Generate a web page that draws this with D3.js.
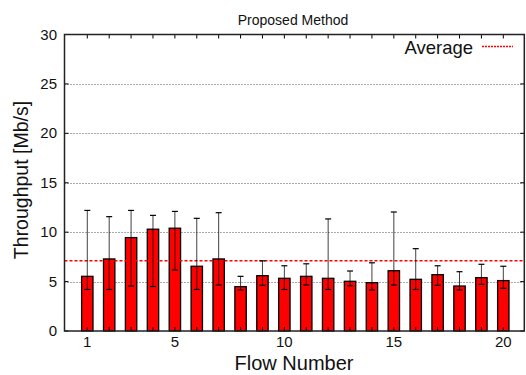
<!DOCTYPE html>
<html>
<head>
<meta charset="utf-8">
<script src="https://cdn.jsdelivr.net/npm/d3@7"></script>
<style>
body { margin: 0; background: #fff; }
svg { font-family: "Liberation Sans", Arial, sans-serif; }
</style>
</head>
<body>
<div id="canvas-container"></div>
<script>
// flow numbers and measured throughput (Mb/s)
var flows = [1, 2, 3, 4, 5, 6, 7, 8, 9, 10, 11, 12, 13, 14, 15, 16, 17, 18, 19, 20];
var means = [5.53, 7.29, 9.45, 10.3, 10.4, 6.55, 7.29, 4.49, 5.6, 5.33,
             5.53, 5.33, 5.03, 4.89, 6.1, 5.23, 5.7, 4.55, 5.4, 5.1];
var lows  = [4.2, 4.2, 4.55, 4.5, 6.17, 4.2, 4.65, 4.15, 4.62, 4.2,
             4.65, 4.2, 4.58, 4.15, 4.65, 4.2, 4.62, 4.15, 4.72, 4.32];
var highs = [12.2, 11.57, 12.2, 11.7, 12.1, 11.4, 11.97, 5.53, 7.1, 6.6,
             6.8, 11.34, 6.07, 6.9, 12.04, 8.33, 6.6, 6.0, 6.75, 6.55];
var average = 7.1;
var yTicks = [0, 5, 10, 15, 20, 25, 30];
var xTicks = [1, 5, 10, 15, 20];

var w = 526, h = 375;
// plot frame
var pl = 64.5, pr = 524.3, pt = 34.5, pb = 331;

var svg = d3.select("#canvas-container").append("svg")
    .attr("width", w)
    .attr("height", h);

var x = d3.scaleLinear().domain([0, 21]).range([65.4, 525.2]);
var y = d3.scaleLinear().domain([0, 30]).range([pb, pt]);
var barw = x(0.52) - x(0);

// grid
svg.selectAll("line.grid")
    .data(yTicks.filter(function(d) { return d > 0 && d < 30; }))
    .enter().append("line")
    .attr("class", "grid")
    .attr("x1", pl).attr("x2", pr)
    .attr("y1", function(d) { return Math.round(y(d)) + 0.5; })
    .attr("y2", function(d) { return Math.round(y(d)) + 0.5; })
    .attr("stroke", "#555")
    .attr("stroke-width", 1)
    .attr("stroke-dasharray", "1,2");

// bars
svg.selectAll("rect.bar")
    .data(flows)
    .enter().append("rect")
    .attr("class", "bar")
    .attr("x", function(d) { return x(d) - barw / 2; })
    .attr("y", function(d, i) { return y(means[i]); })
    .attr("width", barw)
    .attr("height", function(d, i) { return y(0) - y(means[i]); })
    .attr("fill", "#ff0000")
    .attr("stroke", "#000")
    .attr("stroke-width", 1.3);

// average line
svg.append("line")
    .attr("x1", pl).attr("x2", pr)
    .attr("y1", y(average)).attr("y2", y(average))
    .attr("stroke", "#ff0000")
    .attr("stroke-width", 1.5)
    .attr("stroke-dasharray", "3,2");

// error bars
var err = svg.selectAll("g.err")
    .data(flows)
    .enter().append("g")
    .attr("class", "err");
err.append("line")
    .attr("x1", function(d) { return x(d); })
    .attr("x2", function(d) { return x(d); })
    .attr("y1", function(d, i) { return y(lows[i]); })
    .attr("y2", function(d, i) { return y(highs[i]); })
    .attr("stroke", "#000").attr("stroke-opacity", 0.75).attr("stroke-width", 1);
err.append("line")
    .attr("x1", function(d) { return x(d) - 3; })
    .attr("x2", function(d) { return x(d) + 3; })
    .attr("y1", function(d, i) { return y(highs[i]); })
    .attr("y2", function(d, i) { return y(highs[i]); })
    .attr("stroke", "#000").attr("stroke-width", 1.2);
err.append("line")
    .attr("x1", function(d) { return x(d) - 3; })
    .attr("x2", function(d) { return x(d) + 3; })
    .attr("y1", function(d, i) { return y(lows[i]); })
    .attr("y2", function(d, i) { return y(lows[i]); })
    .attr("stroke", "#000").attr("stroke-width", 1.2);

// inward ticks: top/bottom for every flow, left/right for y
var tick = 4;
svg.selectAll("line.xtb")
    .data(flows)
    .enter().append("line")
    .attr("class", "xtb")
    .attr("x1", function(d) { return x(d); }).attr("x2", function(d) { return x(d); })
    .attr("y1", pb).attr("y2", pb - tick)
    .attr("stroke", "#000");
svg.selectAll("line.xtt")
    .data(flows)
    .enter().append("line")
    .attr("class", "xtt")
    .attr("x1", function(d) { return x(d); }).attr("x2", function(d) { return x(d); })
    .attr("y1", pt).attr("y2", pt + tick)
    .attr("stroke", "#000");
svg.selectAll("line.ytl")
    .data(yTicks)
    .enter().append("line")
    .attr("class", "ytl")
    .attr("x1", pl).attr("x2", pl + tick)
    .attr("y1", function(d) { return y(d); }).attr("y2", function(d) { return y(d); })
    .attr("stroke", "#000");
svg.selectAll("line.ytr")
    .data(yTicks)
    .enter().append("line")
    .attr("class", "ytr")
    .attr("x1", pr).attr("x2", pr - tick)
    .attr("y1", function(d) { return y(d); }).attr("y2", function(d) { return y(d); })
    .attr("stroke", "#000");

// frame
svg.append("rect")
    .attr("x", pl).attr("y", pt)
    .attr("width", pr - pl).attr("height", pb - pt)
    .attr("fill", "none")
    .attr("stroke", "#222")
    .attr("stroke-width", 1.5);

// tick labels
svg.selectAll("text.ylab")
    .data(yTicks)
    .enter().append("text")
    .attr("class", "ylab")
    .attr("x", 57)
    .attr("y", function(d) { return y(d) + 5; })
    .attr("text-anchor", "end")
    .attr("font-size", 15)
    .attr("fill", "#111")
    .text(function(d) { return d; });
svg.selectAll("text.xlab")
    .data(xTicks)
    .enter().append("text")
    .attr("class", "xlab")
    .attr("x", function(d) { return x(d); })
    .attr("y", 347)
    .attr("text-anchor", "middle")
    .attr("font-size", 15)
    .attr("fill", "#111")
    .text(function(d) { return d; });

// titles
svg.append("text")
    .attr("x", 293).attr("y", 25)
    .attr("text-anchor", "middle")
    .attr("font-size", 14)
    .attr("fill", "#111")
    .text("Proposed Method");
svg.append("text")
    .attr("x", 294).attr("y", 370)
    .attr("text-anchor", "middle")
    .attr("font-size", 20)
    .attr("fill", "#111")
    .text("Flow Number");
svg.append("text")
    .attr("transform", "translate(28,180) rotate(-90)")
    .attr("text-anchor", "middle")
    .attr("font-size", 19.5)
    .attr("fill", "#111")
    .text("Throughput [Mb/s]");

// legend
svg.append("text")
    .attr("x", 473).attr("y", 54)
    .attr("text-anchor", "end")
    .attr("font-size", 18.5)
    .attr("fill", "#111")
    .text("Average");
svg.append("line")
    .attr("x1", 482).attr("x2", 513)
    .attr("y1", 46.5).attr("y2", 46.5)
    .attr("stroke", "#ff0000")
    .attr("stroke-width", 1.5)
    .attr("stroke-dasharray", "2,1");
</script>
</body>
</html>
